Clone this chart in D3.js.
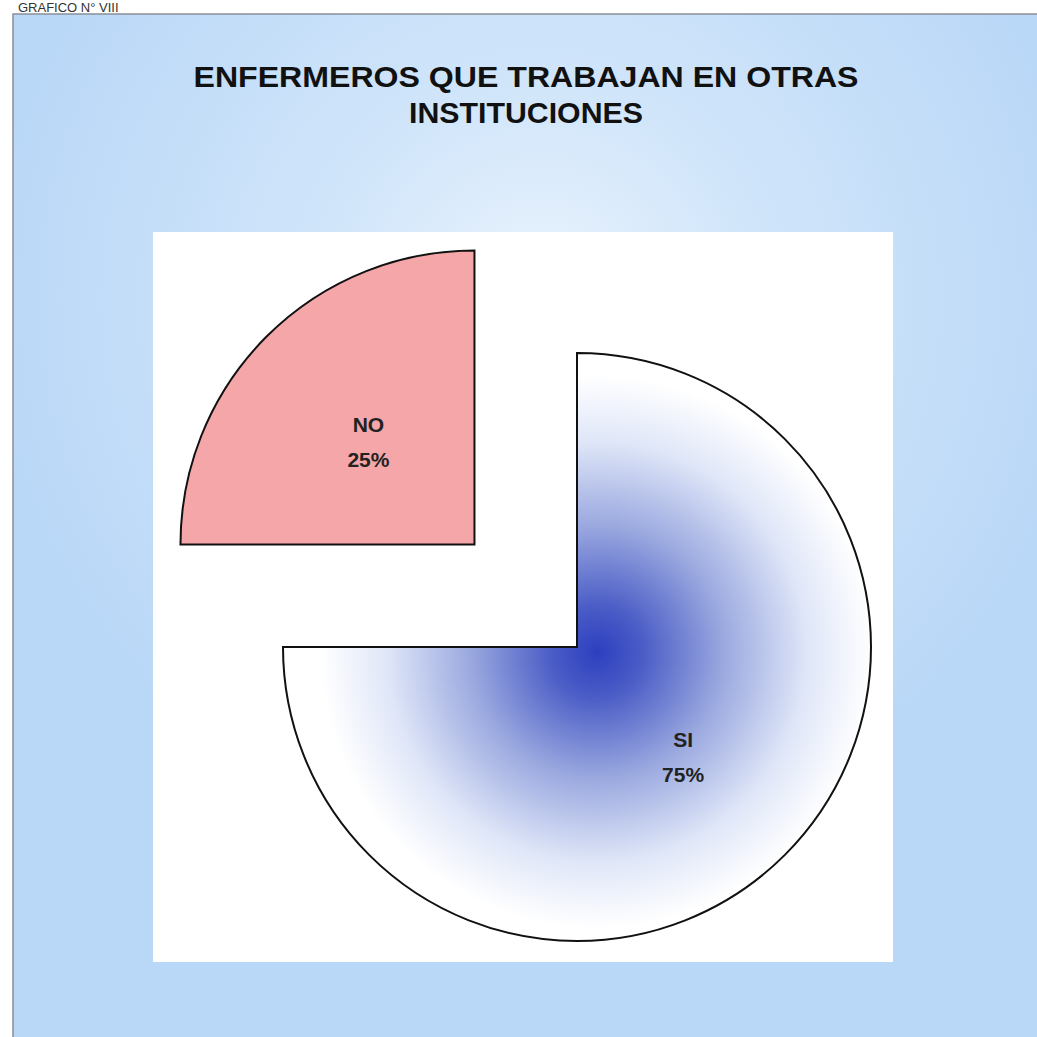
<!DOCTYPE html>
<html>
<head>
<meta charset="utf-8">
<script src="https://cdn.jsdelivr.net/npm/d3@7"></script>
<style>
  body { margin: 0; background: #fff; }
  svg { display: block; }
</style>
</head>
<body>
<div id="chart"></div>
<script>
// chart data
const categories = ["SI", "NO"];
const values = [75, 25];
const labels = ["75%", "25%"];
const exploded = [0, 145];
const titleLines = ["ENFERMEROS QUE TRABAJAN EN OTRAS", "INSTITUCIONES"];

document.addEventListener("DOMContentLoaded", function() {
    const W = 1037, H = 1037;
    const svg = d3.select("#chart").append("svg")
        .attr("width", W)
        .attr("height", H);

    const defs = svg.append("defs");

    // light blue backdrop, brighter towards the middle
    const bg = defs.append("radialGradient")
        .attr("id", "bg")
        .attr("gradientUnits", "userSpaceOnUse")
        .attr("cx", 540).attr("cy", 300).attr("r", 560);
    bg.append("stop").attr("offset", 0).attr("stop-color", "#eaf3fd");
    bg.append("stop").attr("offset", 0.4).attr("stop-color", "#d0e5fa");
    bg.append("stop").attr("offset", 1).attr("stop-color", "#b9d7f7");

    // blue shading inside the big slice (coords local to the pie group)
    const cx = 577, cy = 647, r = 294;
    const shade = defs.append("radialGradient")
        .attr("id", "shade")
        .attr("gradientUnits", "userSpaceOnUse")
        .attr("cx", 20).attr("cy", 5).attr("r", 300);
    shade.append("stop").attr("offset", 0).attr("stop-color", "#2d3fbf");
    shade.append("stop").attr("offset", 0.15).attr("stop-color", "#4a5cc6");
    shade.append("stop").attr("offset", 0.42).attr("stop-color", "#9aa8df");
    shade.append("stop").attr("offset", 0.7).attr("stop-color", "#dfe6f8");
    shade.append("stop").attr("offset", 0.92).attr("stop-color", "#ffffff");

    // caption above the frame
    svg.append("text")
        .attr("x", 18).attr("y", 12)
        .attr("font-family", "Liberation Sans, Arial, sans-serif")
        .attr("font-size", 13)
        .attr("fill", "#333")
        .text("GRAFICO N° VIII");

    svg.append("rect")
        .attr("x", 13).attr("y", 14)
        .attr("width", W).attr("height", H)
        .attr("fill", "url(#bg)")
        .attr("stroke", "#8a8f98")
        .attr("stroke-width", 1.5);

    const titleWidths = [665, 234];
    svg.selectAll(".title").data(titleLines).join("text")
        .attr("class", "title")
        .attr("x", 526)
        .attr("y", (d, i) => 87 + i * 36)
        .attr("text-anchor", "middle")
        .attr("font-family", "Liberation Sans, Arial, sans-serif")
        .attr("font-weight", "bold")
        .attr("font-size", 30)
        .attr("textLength", (d, i) => titleWidths[i])
        .attr("lengthAdjust", "spacingAndGlyphs")
        .attr("fill", "#111")
        .text(d => d);

    // white plot area
    svg.append("rect")
        .attr("x", 153).attr("y", 232)
        .attr("width", 740).attr("height", 730)
        .attr("fill", "#fff");

    const pie = d3.pie().sort(null).value(d => d.value);
    const arcs = pie(categories.map((c, i) => ({ name: c, value: values[i], label: labels[i], off: exploded[i] })));
    const arc = d3.arc().innerRadius(0).outerRadius(r);
    const labelArc = d3.arc().innerRadius(150).outerRadius(150);

    const g = svg.append("g").attr("transform", `translate(${cx},${cy})`);

    const slice = g.selectAll(".slice").data(arcs).join("g")
        .attr("class", "slice")
        .attr("transform", d => {
            const a = (d.startAngle + d.endAngle) / 2;
            return `translate(${d.data.off * Math.sin(a)},${-d.data.off * Math.cos(a)})`;
        });

    slice.append("path")
        .attr("d", arc)
        .attr("fill", d => d.data.name === "SI" ? "url(#shade)" : "#f4a6a8")
        .attr("stroke", "#111")
        .attr("stroke-width", 2)
        .attr("stroke-linejoin", "miter");

    slice.each(function(d) {
        const [lx, ly] = labelArc.centroid(d);
        const t = d3.select(this).append("text")
            .attr("text-anchor", "middle")
            .attr("font-family", "Liberation Sans, Arial, sans-serif")
            .attr("font-weight", "bold")
            .attr("font-size", 21)
            .attr("fill", "#222");
        t.append("tspan").attr("x", lx).attr("y", ly - 6).text(d.data.name);
        t.append("tspan").attr("x", lx).attr("y", ly + 29).text(d.data.label);
    });
});
</script>
</body>
</html>
